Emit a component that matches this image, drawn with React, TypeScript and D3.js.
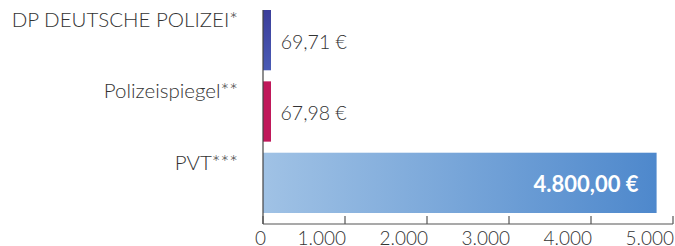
import React from 'react';
import * as d3 from 'd3';

const categories = ['DP DEUTSCHE POLIZEI*', 'Polizeispiegel**', 'PVT***'];
const values = [69.71, 67.98, 4800];
const valueLabels = ['69,71 €', '67,98 €', '4.800,00 €'];
const ticks = [0, 1000, 2000, 3000, 4000, 5000];
const tickLabels = ['0', '1.000', '2.000', '3.000', '4.000', '5.000'];

const W = 675;
const H = 246;
const FONT = 'Lato, "Open Sans", sans-serif';

export default function App() {
  const x = d3.scaleLinear().domain([0, 5000]).range([263, 673]);
  const y = d3.scaleBand<string>().domain(categories).range([10, 213]).paddingInner(0.155).paddingOuter(0);
  const bw = y.bandwidth();

  return (
    <div style={{ position: 'absolute', left: 0, top: 0 }}>
      <svg width={W} height={H} style={{ display: 'block', background: '#fff' }}>
        <defs>
          <linearGradient id="g0" x1="0" x2="0" y1="0" y2="1">
            <stop offset="0%" stopColor="#3b3e9a" />
            <stop offset="100%" stopColor="#4a5bb5" />
          </linearGradient>
          <linearGradient id="g2" x1="0" x2="1" y1="0" y2="0">
            <stop offset="0%" stopColor="#a0c2e5" />
            <stop offset="100%" stopColor="#4e88cc" />
          </linearGradient>
        </defs>
        {categories.map((c, i) => {
          const top = y(c)!;
          const fill = i === 0 ? 'url(#g0)' : i === 1 ? '#c0185a' : 'url(#g2)';
          const big = i === 2;
          return (
            <g key={c}>
              <rect x={x(0)} y={top} width={Math.max(x(values[i]) - x(0), 8)} height={bw} fill={fill} />
              <text x={238} y={top + 9} textAnchor="end" dominantBaseline="central"
                fontFamily={FONT} fontWeight={300} fontSize={20.5} fill="#333">{c}</text>
              {big ? (
                <text x={x(values[i]) - 18} y={top + bw / 2 + 1} textAnchor="end" dominantBaseline="central"
                  fontFamily={FONT} fontWeight={700} fontSize={22} fill="#fff">{valueLabels[i]}</text>
              ) : (
                <text x={x(values[i]) + 12} y={top + bw / 2 + 1} textAnchor="start" dominantBaseline="central"
                  fontFamily={FONT} fontWeight={300} fontSize={19.5} fill="#333">{valueLabels[i]}</text>
              )}
            </g>
          );
        })}
        <line x1={x(0)} x2={x(0)} y1={y(categories[0])!} y2={224} stroke="#444" strokeWidth={1.2} />
        <line x1={x(0)} x2={x(5000)} y1={224} y2={224} stroke="#555" strokeWidth={1.2} />
        {ticks.map((t, i) => (
          <g key={t}>
            <line x1={x(t)} x2={x(t)} y1={216} y2={224} stroke="#555" strokeWidth={1.2} />
            <text x={x(t) + (i === 0 ? 3 : 1)} y={237} textAnchor="end" dominantBaseline="central"
              fontFamily={FONT} fontWeight={300} fontSize={19} fill="#333">{tickLabels[i]}</text>
          </g>
        ))}
      </svg>
    </div>
  );
}
